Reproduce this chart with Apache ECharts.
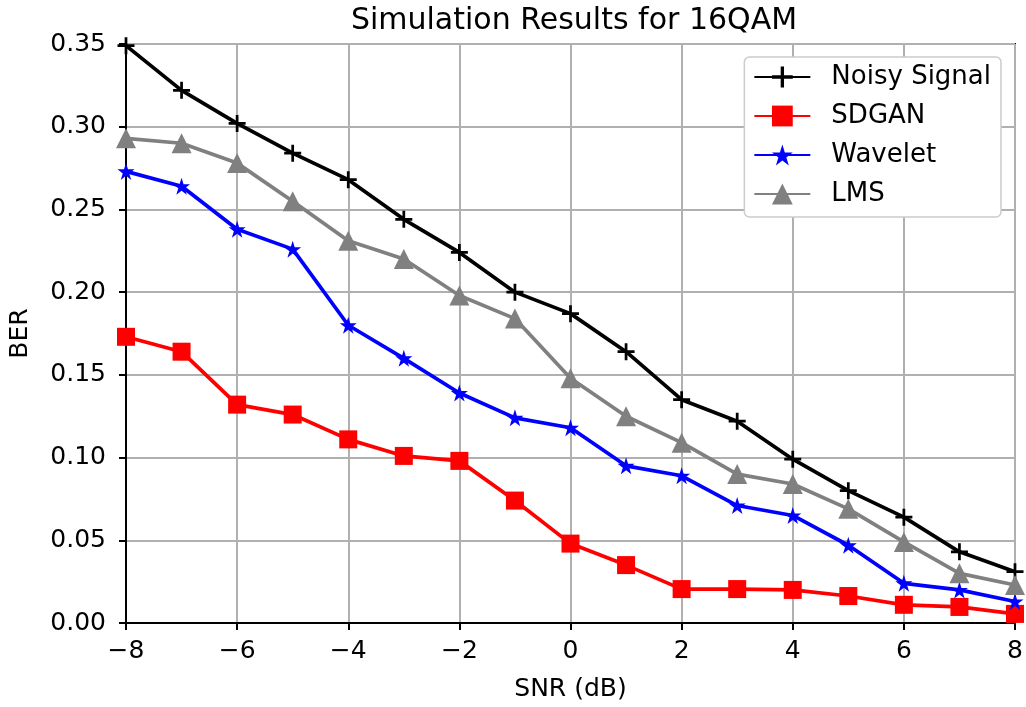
<!DOCTYPE html>
<html>
<head>
<meta charset="utf-8">
<script src="https://cdn.jsdelivr.net/npm/echarts@6/dist/echarts.min.js"></script>
<style>
html,body{margin:0;padding:0;background:#fff;}
#chart{width:1026px;height:707px;}
</style>
</head>
<body>
<div id="chart"></div>
<script>
const snr = [-8,-7,-6,-5,-4,-3,-2,-1,0,1,2,3,4,5,6,7,8];
const noisy   = [0.349,0.322,0.302,0.284,0.268,0.244,0.224,0.200,0.187,0.164,0.135,0.122,0.099,0.080,0.064,0.043,0.031];
const sdgan   = [0.173,0.164,0.132,0.126,0.111,0.101,0.098,0.074,0.048,0.035,0.0205,0.0205,0.020,0.0163,0.011,0.0097,0.0055];
const wavelet = [0.273,0.264,0.238,0.226,0.180,0.160,0.139,0.124,0.118,0.095,0.089,0.071,0.065,0.047,0.024,0.020,0.013];
const lms     = [0.293,0.290,0.278,0.255,0.231,0.220,0.198,0.184,0.148,0.125,0.109,0.090,0.084,0.069,0.049,0.030,0.023];
const seriesNames = ['Noisy Signal','SDGAN','Wavelet','LMS'];
const titleText = 'Simulation Results for 16QAM';
const xName = 'SNR (dB)';
const yName = 'BER';

const FONT = 'DejaVu Sans';
const FS = 25;
const plusPath = 'path://M-1.6,-10L1.6,-10L1.6,-1.6L10,-1.6L10,1.6L1.6,1.6L1.6,10L-1.6,10L-1.6,1.6L-10,1.6L-10,-1.6L-1.6,-1.6Z';
const starPath = 'path://M0,-100L22.45,-30.9L95.1,-30.9L36.3,11.8L58.8,80.9L0,38.2L-58.8,80.9L-36.3,11.8L-95.1,-30.9L-22.45,-30.9Z';

function pairs(vals){ return snr.map((x,i)=>[x, vals[i]]); }
function mk(name, vals, color, symbol, size){
  return {
    name, type:'line', data: pairs(vals),
    symbol, symbolSize: size, showSymbol:true,
    lineStyle:{color, width:3.7}, itemStyle:{color, borderWidth:0},
    emphasis:{disabled:true}, animation:false, clip:false
  };
}
const chart = echarts.init(document.getElementById('chart'), null, {renderer:'canvas'});
chart.setOption({
  backgroundColor:'#fff',
  animation:false,
  title:{text:titleText, left:569, textAlign:'center', top:1,
    textStyle:{fontFamily:FONT, fontSize:30, fontWeight:'normal', color:'#000'}},
  grid:{left:123, right:11, top:44, bottom:83, show:true, borderColor:'#000', borderWidth:2, backgroundColor:'transparent'},
  legend:{
    right:25, top:57, orient:'vertical',
    backgroundColor:'#fff', borderColor:'#cccccc', borderWidth:1.5, borderRadius:5,
    padding:[7,10,10,9], itemGap:13, itemWidth:56, itemHeight:26,
    textStyle:{fontFamily:FONT, fontSize:26, color:'#000', padding:[0,0,0,16]},
    data: seriesNames
  },
  xAxis:{
    type:'value', min:-8, max:8, interval:2,
    name:xName, nameLocation:'middle', nameGap:54,
    nameTextStyle:{fontFamily:FONT, fontSize:FS, color:'#000'},
    axisLine:{show:true, onZero:false, lineStyle:{color:'#000', width:2}},
    axisTick:{show:true, length:7, lineStyle:{color:'#000', width:2}},
    axisLabel:{fontFamily:FONT, fontSize:FS, color:'#000', margin:16,
      formatter:v=>String(v).replace('-','\u2212')},
    splitLine:{show:true, lineStyle:{color:'#b0b0b0', width:2}}
  },
  yAxis:{
    type:'value', min:0, max:0.35, interval:0.05,
    name:yName, nameLocation:'middle', nameGap:93,
    nameTextStyle:{fontFamily:FONT, fontSize:FS, color:'#000'},
    axisLine:{show:true, onZero:false, lineStyle:{color:'#000', width:2}},
    axisTick:{show:true, length:7, lineStyle:{color:'#000', width:2}},
    axisLabel:{fontFamily:FONT, fontSize:FS, color:'#000', margin:20,
      formatter:v=>v.toFixed(2)},
    splitLine:{show:true, lineStyle:{color:'#b0b0b0', width:2}}
  },
  series:[
    mk(seriesNames[0], noisy, '#000000', plusPath, 17),
    mk(seriesNames[1], sdgan, '#ff0000', 'rect', 18),
    mk(seriesNames[2], wavelet, '#0000ff', starPath, 17),
    mk(seriesNames[3], lms, '#808080', 'triangle', 20)
  ]
});
</script>
</body>
</html>
